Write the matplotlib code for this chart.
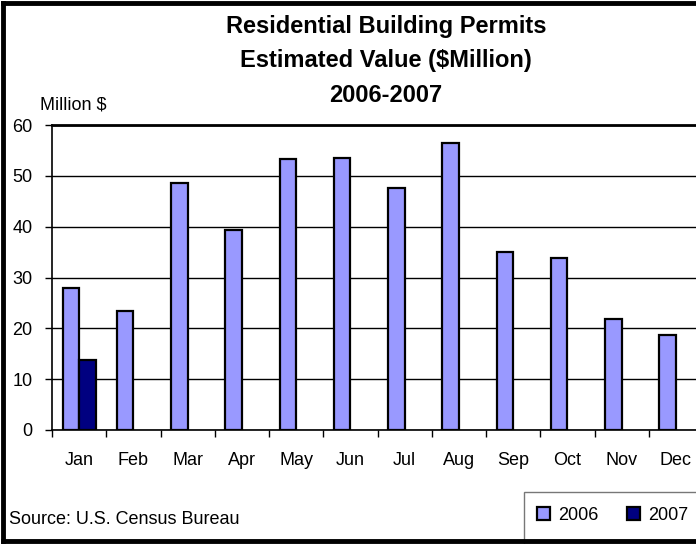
import matplotlib.pyplot as plt
import numpy as np
from matplotlib.lines import Line2D
from matplotlib.patches import Rectangle

plt.rcParams['font.family'] = ['Liberation Sans', 'DejaVu Sans']

months = ['Jan', 'Feb', 'Mar', 'Apr', 'May', 'Jun',
          'Jul', 'Aug', 'Sep', 'Oct', 'Nov', 'Dec']
values_2006 = [27.9, 23.5, 48.5, 39.3, 53.3, 53.6, 47.7, 56.5, 35.0, 33.9, 21.9, 18.7]
values_2007 = [13.7] + [np.nan] * 11
y_ticks = [0, 10, 20, 30, 40, 50, 60]

W, H = 696, 544
fig = plt.figure(figsize=(W / 100, H / 100), dpi=100)
fig.patch.set_facecolor('white')

# plot area runs past the right edge of the picture, like the reference
ax = fig.add_axes([52 / W, (H - 430) / H, (703 - 52) / W, 305 / H])

x = np.arange(len(months))
width = 0.305
ax.bar(x - width / 2, values_2006, width=width, color='#9999FF',
       edgecolor='black', linewidth=1.6, label='2006', zorder=3)
ax.bar(x + width / 2, values_2007, width=width, color='#000080',
       edgecolor='black', linewidth=1.6, label='2007', zorder=3)

ax.set_xlim(-0.5, len(months) - 0.5)
ax.set_ylim(0, 60)
ax.set_yticks(y_ticks)
ax.set_yticklabels([str(v) for v in y_ticks], fontsize=13)
ax.yaxis.grid(True, color='black', linewidth=1, zorder=0)
ax.set_axisbelow(True)

# month labels centred, ticks on category boundaries
ax.set_xticks(x)
ax.set_xticklabels(months, fontsize=13)
ax.tick_params(axis='x', length=0, pad=16)
ax.set_xticks(np.arange(-0.5, len(months), 1), minor=True)
ax.tick_params(axis='x', which='minor', length=5, width=1, direction='out')
ax.tick_params(axis='y', length=5, width=1, direction='out', pad=9)

ax.spines['right'].set_visible(False)
ax.spines['top'].set_linewidth(2)
ax.spines['left'].set_linewidth(1.2)
ax.spines['bottom'].set_linewidth(1.2)

# titles and notes
title_lines = ['Residential Building Permits', 'Estimated Value ($Million)', '2006-2007']
for line, yy in zip(title_lines, [27, 61, 96]):
    fig.text(386 / W, 1 - yy / H, line, ha='center', va='center',
             fontsize=17, fontweight='bold')
fig.text(40 / W, 1 - 105 / H, 'Million $', ha='left', va='center', fontsize=13)
fig.text(9 / W, 1 - 519 / H, 'Source: U.S. Census Bureau', ha='left', va='center', fontsize=13)

# legend box, cut at the right edge
fig.add_artist(Rectangle((524 / W, 0), 1, (H - 492) / H, transform=fig.transFigure,
                         facecolor='white', edgecolor='#777777', linewidth=1))
leg = fig.legend(loc='center left', bbox_to_anchor=(537 / W, 1 - 515 / H),
                 ncol=2, fontsize=13, frameon=False,
                 handlelength=0.7, handleheight=0.7, handletextpad=0.45,
                 columnspacing=1.6, borderpad=0, borderaxespad=0)

# thick outer border on three sides
for xs, ys in [([3, 3], [3, H - 3]), ([3, W], [3, 3]), ([3, W], [H - 3, H - 3])]:
    fig.add_artist(Line2D([v / W for v in xs], [1 - v / H for v in ys],
                          color='black', linewidth=3.5))

fig.savefig('out.png', dpi=100)
